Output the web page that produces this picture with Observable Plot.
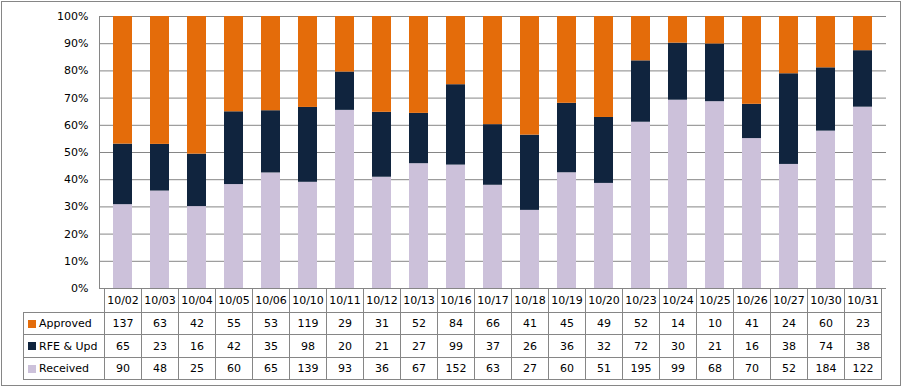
<!DOCTYPE html>
<html><head><meta charset="utf-8">
<script src="https://cdn.jsdelivr.net/npm/d3@7"></script>
<script src="https://cdn.jsdelivr.net/npm/@observablehq/plot@0.6"></script>
<style>
body{margin:0;background:#fff;}
#wrap{position:relative;width:903px;height:388px;font-family:"DejaVu Sans",Verdana,sans-serif;font-size:11px;color:#000;overflow:hidden;}
#border{position:absolute;left:1px;top:1px;width:898px;height:383px;border:1px solid #868686;}
#chart{position:absolute;left:0;top:0;}
.cell{position:absolute;box-sizing:border-box;border:1px solid #868686;display:flex;align-items:center;justify-content:center;white-space:nowrap;}
.leg{justify-content:flex-start;padding-left:4px;}
.sw{display:inline-block;width:8px;height:8px;margin-right:3px;}
</style></head><body>
<div id="wrap"><div id="border"></div><div id="chart"></div></div>
<script>
const dates = ["10/02","10/03","10/04","10/05","10/06","10/10","10/11","10/12","10/13","10/16","10/17","10/18","10/19","10/20","10/23","10/24","10/25","10/26","10/27","10/30","10/31"];
const approved = [137,63,42,55,53,119,29,31,52,84,66,41,45,49,52,14,10,41,24,60,23];
const rfe = [65,23,16,42,35,98,20,21,27,99,37,26,36,32,72,30,21,16,38,74,38];
const received = [90,48,25,60,65,139,93,36,67,152,63,27,60,51,195,99,68,70,52,184,122];
const seriesNames = ["Approved","RFE & Upd","Received"];
const seriesColors = ["#E46C0A","#10243E","#CCC1DA"];
const tableRows = [approved, rfe, received];

const data = [];
dates.forEach((d,i)=>{
  data.push({date:d, series:"Received", count:received[i]});
  data.push({date:d, series:"RFE & Upd", count:rfe[i]});
  data.push({date:d, series:"Approved", count:approved[i]});
});

const pct = d3.format(".0%");
const plot = Plot.plot({
  width:903, height:300, marginLeft:99, marginRight:17, marginTop:16, marginBottom:12,
  style:{fontFamily:'"DejaVu Sans",Verdana,sans-serif', fontSize:"11px", color:"#000", background:"transparent", overflow:"visible"},
  x:{domain:dates, padding:0, axis:null},
  y:{domain:[0,1], axis:null, label:null},
  color:{domain:seriesNames, range:seriesColors},
  marks:[
    Plot.gridY({ticks:10, stroke:"#868686", strokeOpacity:1}),
    Plot.barY(data, Plot.stackY({offset:"normalize", x:"date", y:"count", fill:"series", insetLeft:9, insetRight:9})),
    Plot.axisY({ticks:10, tickSize:0, tickPadding:11, tickFormat:pct, label:null}),
    Plot.frame({anchor:"left", stroke:"#868686", strokeOpacity:1})
  ]
});
document.getElementById("chart").appendChild(plot);

const x = plot.scale("x");
const bw = x.bandwidth;
const wrap = document.getElementById("wrap");
const rowTops = [288, 312, 334, 357, 379];
function cell(left, right, r, html, cls){
  const el = document.createElement("div");
  el.className = "cell" + (cls ? " " + cls : "");
  el.style.left = left + "px";
  el.style.top = rowTops[r] + "px";
  el.style.width = (right - left + 1) + "px";
  el.style.height = (rowTops[r+1] - rowTops[r] + 1) + "px";
  el.innerHTML = html;
  wrap.appendChild(el);
}
const legLeft = 23;
const firstLeft = Math.round(x.apply(dates[0]));
dates.forEach((d,i)=>{
  const l = Math.round(x.apply(d)), r = Math.round(x.apply(d) + bw);
  cell(l, r, 0, d);
  tableRows.forEach((vals,k)=> cell(l, r, k+1, String(vals[i])));
});
seriesNames.forEach((name,k)=>{
  cell(legLeft, firstLeft, k+1, `<span class="sw" style="background:${seriesColors[k]}"></span>${name.replace("&","&amp;")}`, "leg");
});
</script>
</body></html>
